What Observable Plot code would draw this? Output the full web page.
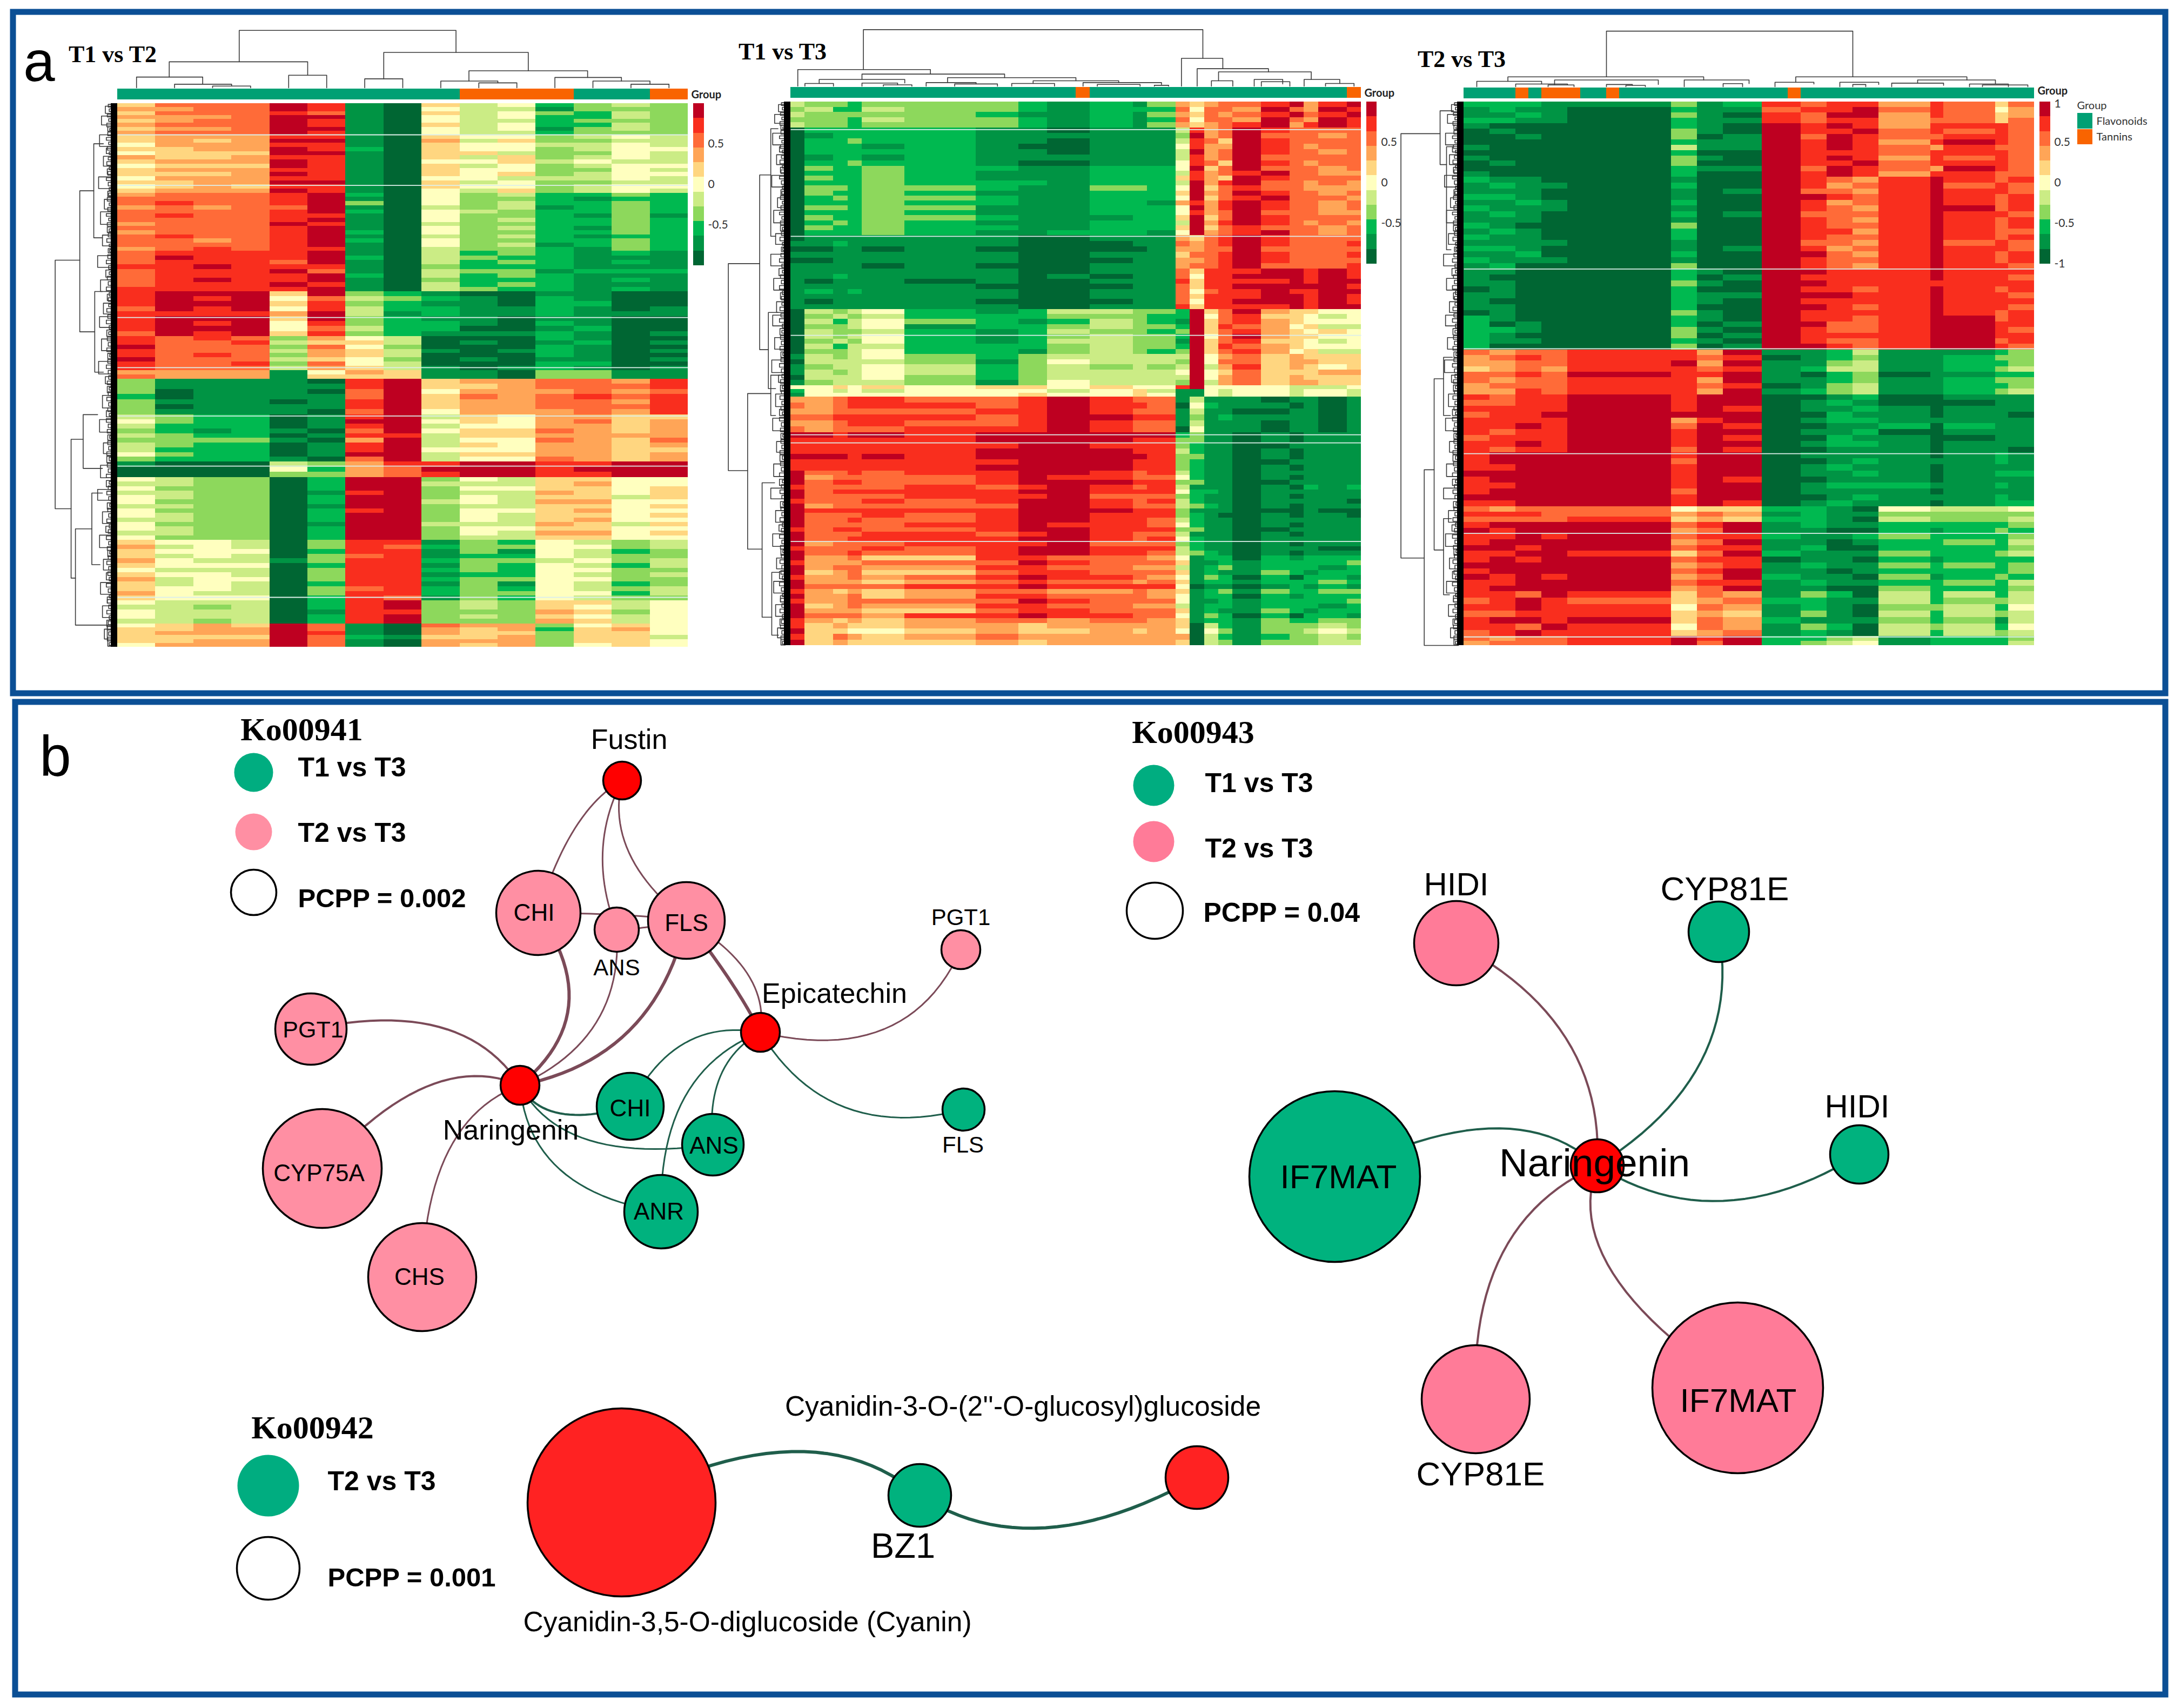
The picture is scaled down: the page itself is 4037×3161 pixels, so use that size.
<!DOCTYPE html>
<html><head><meta charset="utf-8">
<script src="https://cdn.jsdelivr.net/npm/d3@7"></script>
<script src="https://cdn.jsdelivr.net/npm/@observablehq/plot@0.6"></script>
<style>html,body{margin:0;padding:0;background:#fff;overflow:hidden}svg{display:block}</style>
</head><body><div id="chart"></div>
<script>
// ---------- heatmap values: each digit is a binned z-score (0 = -1 ... 5 = 0 ... a = +1)
const t1t2Groups = "FFFFFFFFFTTTFFT";
const t1t2Spans = [1,1,1,1,1,1,1,1,1,1,1,1,1,1,1];
const t1t2Bands = [70,130,130,90,100,95,80,105,35,140,135,52,52];
const t1t2Rows = [
["6888a9106452343","7788a9105441333","688898106453243","7778aa105452243","6788a9105442333","7888a9106452243","6778aa105451343","7888a9105442333"],
["677799106553454","6767aa107463344","577799106554454","6677a9206553455","5666aa106643354","766799106463454","6777a9105564544","5666a9106453455","677799106553354","6667a9106563455","577799105544454","6677aa106453344","567699106553455","6777a9105463454"],
["78889a205342232","88889a105332122","89889a305342232","78788a104341232","88889a205432232","898899105332131","88889a105342232","7888a9104332232","88889a105342132","78889a205332232","89889a104342122","88789a205332232","88889a105341232","789899104332132"],
["89999a104232121","8a999a204322111","89998a104232121","99a999103222111","8999a8104331222","89999a204232111","89a99a103222121","8999a9104232111","99999a104322121"],
["9aaa6a321001100","9a9a58432102100","9aaa69321102200","8a9a59422112101","99997a412112111","9aaa6a321101100","9a9a59322102100","9aaa58422001200","8a9a69321112101"],
["989837540002100","988946640101201","a88838530002100","988847641012101","989837640002100","a88846530101101","988938540002200","988847641012101","777715761103311","877716661103311"],
["3111109a6778879","3111119a6678889","3011108a5777878","2011118a6878989","3111019a6778879","3011119a6778889","3111108a5777879"],
["4322019a4657766","532201aa5657867","4222019a4557767","3212108a5668767","432201994667777","3333107a4558768","4322019a4657767","4222019a5557766","532201aa4667767","3222108a4558767"],
["100043799aa99aa","00005278aaa9aaa","000033789aa99aa"],
["543302aa3546655","443302aa4446755","533302aa3556656","4433019a3447656","543302aa3546646","533302aa4547755","443301aa3446656","5333029a3556755","543302aa3546656","443302aa3546755","533301aa4447646","543302aa3556655","443302aa3547756","533302aa3446655"],
["655403991325434","745403982335534","655502991315423","645403891225433","754413992334534","655502991325424","544403992325533","655403991225434","745503992335533","645402991315423","655403892325434","754403992335524","655502981325433"],
["5444029a3436645","4434029a3436545","544401993337635","5444029a3436545","4434029a3337645"],
["5676a8108773565","6677a8107672675","6777a9107663665","6666a8216673664","6677a8107773665","5777a8107673565"]];
const t1t2Gaps = [70,183,478,590,698,810,1103];

const t1t3Groups = "FFFFFFFFFFFFFFFFFFFFTFFFFFFFFFFFFFFFFFFT";
const t1t3Spans = [1,2,1,1,3,5,3,2,3,3,1,2,1,1,1,1,2,2,1,1,2,1];
const t1t3Bands = [58,85,155,75,90,100,70,25,80,85,190,150,50];
const t1t3Rows = [
["433233321213767889a79a","34224332122285887a87a9","433333211213768789a89a","3332433212128588 7a87a9".replace(" ",""),"43323332121376789a79a9"],
["0222221101114978a98888","0122221111113a78a88878","0223221101114986a98888","0222121001115977a98788","0222221101114a78a98878","0122121111114978a88888","0223221001115986a98788"],
["0322322112225a68a88878","02223211122249789a8877","0322321112226976a98888","0222322212224a79a88787","0332332113325a68988777","0322321112226a78a98878","0232332112225a689a8887","0222322112217979a98878","0332331112225a79a98878","0222321112225978a88877","0322332111226a68a98888","0232321112224a79a98787","0322322112226a68988878","0222321122215a789a8878"],
["0111111001117689a98888","1121111000118789a98889","0011010000017788a88888","1111111001116889a98889","0011111000117789a98888","1111010001117889a88889"],
["11111110011186999aa9a9","1121111010118599aaa9a9","101110100111969999a9aa","1111110000118699aaaaa9","12121110011185899a99aa","11111110011186999aa9a9","1011110000118599aaa9a9","111111100111969999a9aa"],
["0434521244332a68a76655","0343422233322a58966545","0424532124321a68976555","0334512234332a69875644","0433421243323a68976565","0434521234332a58a76655","0343521244331a68966545","0424422234332a69876555","0334522134323a68975644"],
["1434532344444a57867666","0444431354443a58867766","1344542343434a47967656","1434542344445a56866677","0444532344444a57867666","1344431354443a47867766"],
["5565656656559a55554445","2545455545641154554554","1555555655651154554554"],
["77899889a9881411101101","87899989a9980521110101","77888899a9881411001101","88999989aa991312111101","77899889a9881411101101","87888999a9880511101101"],
["aa9aa9aaaaaa2311010111","999999aaaa993311010111","9999999aa9993211001111","999999aaaa994211010111","aaa9a9aaaaa93311010111","9999999aaa993211001111","999999aaaa993211010111"],
["a889899aa9894211011111","a788889a99885211010111","a899889aaa993311001111","98888989a9894111010212","a899999aa9995221011111","a8888999a8883211010111","9888989aa9894211011110","a788888aa9884321010111","a999999aaa993111000100","a888989aa9993210010110","a889889aa9984211011111","a888899a99985211010111","9899889aa9993311001111","a8889989a9884111010111","a889999aa9895211011111","a78889 99a8883211010111".replace(" ",""),"9888989aa9994211011100","a889889aa9984321010111"],
["a778669988875122021222","9777888a98886112122223","a788779988774123122212","a678668998886121132122","9778789a99875132020221","a777678988786122122232","a888899a99995011012121","9767678877876123132233","a778679988875122021222","9778888a98885112122223","a678779988774122122212","a777668998886121132122","a888799a99885132020221","9767678878876122132233"],
["9676677677776042133343","a665567667675053133454","9687678777777042123343","a676667677776043133344"]];
const t1t3Gaps = [62,300,521,743,761,981];

const t2t3Groups = "FFFFTFTTTFFTFFFFFFFFFFFFFTFFFFFFFFFFFFFFFFFF";
const t2t3Spans = [2,2,2,2,8,2,2,3,3,2,2,2,4,1,4,1,2];
const t2t3Bands = [48,120,205,105,75,100,130,120,35,155,100,20];
const t2t3Rows = [
["22211312989979868","12110211899a89857","1121031098aa79867","22110211989978868"],
["10000210a9a979998","01000310a99a89898","00100301a8a988998","00000211a9a979a98","10000411a9a987988","00000200a99989998","10000310a9a979898","01000300a99a89998","00000211a8a987a98","10000200a9a979988"],
["21100100a9879a989","12110200a9789a898","11100101a8879a998","22100100aa989a989","11210200a9789a989","21110100a9879aa89","12100201a8889a998","11100100a9879a989","21000300a9889a989","12100200a9979a988","21100200a9889a989","11110100a8879a898","22100101a9789a998","11200200aa879a989","21110100a9889a989","12000300a9879a998"],
["11000210aa999a999","10000201a9999a998","11000310aa9999999","01000200a9989a989","11000211aaa99a998","10000210a9999a999","11000200aa989a998","01000310a9999a989"],
["21000210a9989aa89","20100201aa889aa99","22100310a9889aa98","21000301a9999aa99","21100210a9889aa89","20000301aa989aa98"],
["8788997a112411123","78989989012311233","77889a7a113411223","67879989124411234","8898a99a102301122","87889 97a112311233".replace(" ",""),"78889989013411223","7798997a123411234"],
["9899a9aa001200111","8899a9aa012100011","9999a9a9011210111","899aaaaa002110110","9999a79a012211111","99a9a8a9001120211","9899a9aa011200111","8999a9a9002110011","99a9a9aa012210111","9899a8a9001110110"],
["9aaaa9aa011110121","9aaaa8aa001211121","99aaa9aa012110111","aaaaa9aa011210122","9aaaa9a9001110111","99aaa9aa012221121","9aaaa8aa011110111","aaaaa9aa001211121","99aaa9a9012110122"],
["87888566221054445","99988787121133333","88889676221043334"],
["9aaaa89a121122223","a9aaa78a110021232","99a9a899211232223","9aaaa78a110122324","aa9aa899120022223","99aa968a211132234","9a9aa899011021222","aaaaa789121132323","9aaaa89a110122223","a9a9a78a211031232","99aaa899121122324","9aaaa78a110032223"],
["998a9687132042424","89a98678221142334","99a99587121033425","88999676131042434","9aa9a687211132314","998a9587132043425","89a99678121042434"],
["87889a9a223412223","78889a8a234512224"]];
const t2t3Gaps = [373,551,785,963,1194];

// ---------- dendrogram merges: [leaf a, leaf b, height of a, height of b, merge height]
const t1t2Top = [[3.2,8.9,58,79,128],[1.36,5,24,28,58],[.5,2.24,0,8,24],[1.5,3,0,4,8],[2.5,3.5,0,0,4],[4.5,5.5,0,0,28],[7,10.8,20,38,79],[6.5,7.5,0,0,20],[9.24,12.36,15,23,38],[8.5,10,0,11,15],[9.5,10.5,0,0,11],[11.5,13.25,0,15,23],[12.5,14,0,8,15],[13.5,14.5,0,0,8]];
const t1t3Top = [[5.1,28.9,37,62,126],[.5,9.8,0,27,37],[5,15,15,19,27],[2,8,6,7,15],[1,3,0,0,6],[5,7.5,0,3,7],[6.5,8.5,0,0,3],[11,20,8,12,19],[9.5,13,0,5,8],[11.5,14.5,0,0,5],[17,23,6,8,12],[15.5,18.5,0,0,6],[20.5,26,0,4,8],[21.5,24.5,0,0,4],[25.5,26.5,0,0,2],[27.4,30.3,0,39,62],[28.5,33.5,0,32,39],[30,36.5,12,15,32],[29.5,31,0,0,12],[33,35,0,0,10],[32.5,34.5,0,5,15],[36,38.5,0,6,15],[37.5,39.5,0,0,6]];
const t2t3Top = [[11,30,22,22,124],[3.4,18.5,12,15,22],[1,6,0,6,12],[4,8,0,4,6],[7,15,4,5,15],[6.5,8.5,0,0,4],[11,13,0,3,5],[12.5,14,0,0,3],[17,22,0,7,15],[20,21.5,0,0,7],[25.6,38.8,10,15,22],[24,27,0,6,10],[29,32,0,5,10],[35,41,8,6,15],[33,37,0,3,8],[39,42,0,0,6],[40,43.5,0,0,4],[30,31,0,0,5]];
const t1t2Side = [[350,905,67,85,118],[195,510,38,36,67],[90,300,18,20,38],[420,600,20,18,36],[750,1060,60,76,85],[695,815,30,20,60],[950,1165,42,10,76],[870,1030,20,25,42],[1165,1200,0,0,10]];
const t1t3Side = [[361,823,53,78,118],[163,553,30,35,53],[60,300,15,20,30],[470,640,15,20,35],[651,998,30,48,78],[610,700,10,20,30],[850,1150,22,28,48],[1050,1190,12,14,28]];
const t2t3Side = [[71,1018,37,69,116],[20,140,10,24,37],[100,330,12,15,24],[821,1213,49,0,69],[618,1000,30,30,49],[570,700,12,16,30],[930,1100,14,18,30]];
const leafMerges = [[6,22,14],[28,48,22],[52,62,9],[70,96,26],[100,112,12],[118,140,18],[146,158,10],[164,190,28],[196,208,9],[214,236,16],[242,270,24],[276,288,10],[294,318,20],[324,334,8],[340,366,30],[372,388,13],[394,420,24],[426,440,10],[446,470,18],[476,500,26],[506,520,11],[526,552,22],[558,570,9],[576,604,28],[610,626,14],[632,646,10],[652,680,20],[686,700,12],[706,734,26],[740,752,9],[758,782,18],[788,802,11],[808,836,24],[842,856,12],[862,886,30],[892,906,10],[912,938,20],[944,958,13],[964,992,26],[998,1012,9],[1018,1042,18],[1048,1064,12],[1070,1096,24],[1102,1116,10],[1122,1148,20],[1154,1168,11],[1174,1196,16],[1200,1212,9]];
const leafFine = [[2,8,8],[12,18,6],[24,30,10],[34,40,7],[44,52,11],[56,60,5],[64,72,9],[76,82,12],[86,92,7],[96,104,10],[108,114,6],[120,126,8],[130,138,11],[142,148,6],[152,160,9],[166,172,12],[176,184,8],[188,194,6],[200,206,7],[210,218,10],[222,228,6],[232,240,9],[246,252,12],[256,262,7],[266,274,10],[280,286,6],[290,298,8],[302,310,11],[314,320,6],[326,332,5],[338,346,9],[350,358,12],[362,370,7],[376,382,6],[386,394,10],[398,406,8],[410,418,12],[422,430,6],[434,442,8],[448,454,7],[458,466,11],[472,480,9],[484,492,12],[496,504,6],[510,516,7],[522,530,10],[534,542,8],[546,554,11],[560,566,5],[572,580,9],[584,592,12],[596,604,8],[608,616,7],[620,628,10],[634,640,6],[644,652,8],[656,664,11],[668,676,7],[680,688,9],[692,698,6],[704,712,12],[716,724,8],[728,736,10],[742,748,5],[754,762,9],[766,774,7],[778,786,11],[790,798,6],[804,812,10],[816,824,8],[828,836,12],[844,850,6],[854,862,8],[866,874,11],[878,886,7],[894,900,5],[904,912,9],[916,924,7],[928,936,11],[940,948,6],[952,960,8],[966,974,12],[978,986,7],[990,998,10],[1000,1006,5],[1010,1018,8],[1022,1030,11],[1034,1042,7],[1046,1054,9],[1058,1066,6],[1072,1080,12],[1084,1092,8],[1098,1104,6],[1108,1116,10],[1120,1128,7],[1132,1140,11],[1144,1152,6],[1156,1164,8],[1168,1176,10],[1180,1188,7],[1192,1200,9],[1204,1210,6]];

// ---------- network nodes: name, class, place on the canvas, size
const ko941Nodes = [["Fustin","met",1151,1444,35],["CHI","p",996,1689,78],["ANS","p",1141,1720,41],["FLS","p",1270,1703,71],["PGT1r","p",1778,1757,36],["Epicatechin","met",1407,1910,36],["PGT1l","p",575,1904,66],["Naringenin","met",962,2008,36],["CHIg","g",1166,2047,62],["ANSg","g",1319,2118,57],["ANR","g",1223,2242,68],["FLSg","g",1783,2053,39],["CYP75A","p",596,2162,110],["CHS","p",781,2363,100]];
const ko941Edges = [["Fustin","CHI",1064,1532,3,"p"],["Fustin","ANS",1115,1578,3,"p"],["Fustin","FLS",1164,1578,3,"p"],["CHI","FLS",1152,1693,3,"p"],["ANS","FLS",1200,1715,3,"p"],["CHI","Naringenin",1052,1861,6,"p"],["ANS","Naringenin",1103,1892,3,"p"],["FLS","Naringenin",1164,1907,6,"p"],["FLS","Epicatechin",1352,1816,6,"p"],["FLS","Epicatechin",1382,1800,3,"p"],["PGT1l","Naringenin",812,1900,4,"p"],["CYP75A","Naringenin",788,2011,4,"p"],["CHS","Naringenin",830,2129,3,"p"],["Epicatechin","PGT1r",1636,1904,3,"p"],["Naringenin","CHIg",1036,2060,4,"g"],["Naringenin","ANSg",1091,2110,3,"g"],["Naringenin","ANR",1036,2164,3,"g"],["Epicatechin","CHIg",1267,1930,3,"g"],["Epicatechin","ANSg",1333,1991,3,"g"],["Epicatechin","ANR",1267,2030,3,"g"],["Epicatechin","FLSg",1564,2049,3,"g"]];
const ko943Nodes = [["HIDIp","q",2695,1745,78],["CYP81Eg","g",3181,1724,56],["Nar943","met",2956,2157,49],["HIDIg","g",3441,2136,54],["IF7g","g",2470,2177,158],["CYP81Ep","q",2731,2589,100],["IF7p","q",3216,2568,158]];
const ko943Edges = [["HIDIp","Nar943",2898,1921,4,"p"],["CYP81Eg","Nar943",3148,1964,4,"g"],["IF7g","Nar943",2755,2088,4,"g"],["HIDIg","Nar943",3189,2222,4,"g"],["CYP81Ep","Nar943",2781,2318,4,"p"],["IF7p","Nar943",2985,2356,4,"p"]];
const ko942Nodes = [["Cyanin","met2",1150,2780,174],["BZ1","g",1702,2767,58],["Cy3","met2",2215,2734,58]];
const ko942Edges = [["Cyanin","BZ1",1465,2686,6,"g"],["BZ1","Cy3",1935,2827,6,"g"]];
const legendDots = [["g2",469,1429,36],["p",469,1539,34],["g2",2135,1453,38],["q",2135,1557,38],["g2",496,2749,57]];
const legendOpen = [[469,1651,42],[2137,1685,52],[496,2902,58]];

// ---------- labels: text, x, y, font size
const nodeLabels = [["Fustin",1164,1369,52],["ANS",1141,1791,42],["CHI",988,1689,44],["FLS",1270,1708,44],["PGT1",1778,1698,42],["Epicatechin",1544,1839,52],["PGT1",579,1906,43],["Naringenin",945,2092,52],["CHI",1166,2051,44],["ANS",1321,2120,44],["ANR",1219,2242,44],["FLS",1782,2119,42],["CYP75A",590,2171,44],["CHS",776,2363,44],
["HIDI",2695,1637,60],["CYP81E",3192,1646,62],["Naringenin",2951,2153,73],["HIDI",3437,2048,60],["IF7MAT",2477,2179,62],["CYP81E",2740,2729,62],["IF7MAT",3217,2593,62],
["BZ1",1671,2862,65],["Cyanidin-3-O-(2''-O-glucosyl)glucoside",1893,2603,51.5],["Cyanidin-3,5-O-diglucoside (Cyanin)",1383,3002,51.5],["a",72,116,105],["b",102,1402,105]];
const boldLabels = [["T1 vs T3",551,1420,50],["T2 vs T3",551,1541,50],["PCPP = 0.002",551,1663,49],["T1 vs T3",2230,1449,50],["T2 vs T3",2230,1570,50],["PCPP = 0.04",2227,1689,50],["T2 vs T3",606,2741,50],["PCPP = 0.001",606,2920,49]];
const serifLabels = [["T1 vs T2",208,100,44],["T1 vs T3",1448,95,44],["T2 vs T3",2705,109,44],["Ko00941",558,1350,60],["Ko00943",2208,1355,60],["Ko00942",578,2642,60]];

// ---------- styling and layout (kept apart from the values)
const W = 4037, H = 3161;
const heatColors = ["#006633","#009444","#00B950","#8DD85C","#CBEC85","#FFFFBF","#FFD680","#FFA557","#FF6B38","#F92E1E","#BE0021"];
const classFill = {p:"#FF8FA3", q:"#FF7B98", g:"#00B27E", g2:"#00AD80", met:"#FF0000", met2:"#FF2222"};
const edgeStroke = {p:"#7B4A58", g:"#1F5E4B"};
const maps = [
 {groups:t1t2Groups,spans:t1t2Spans,bands:t1t2Bands,rows:t1t2Rows,gaps:t1t2Gaps,top:t1t2Top,side:t1t2Side,L:217,R:1273,T:191,B:1197,aT:164,aB:184,bL:1283,bR:1303,sideK:.893,ticks:[.5,0,-.5],bt:"Group",btX:1279,btY:175,tickX:1310},
 {groups:t1t3Groups,spans:t1t3Spans,bands:t1t3Bands,rows:t1t3Rows,gaps:t1t3Gaps,top:t1t3Top,side:t1t3Side,L:1463,R:2519,T:188,B:1194,aT:161,aB:181,bL:2529,bR:2548,sideK:.893,ticks:[.5,0,-.5],bt:"Group",btX:2525,btY:172,tickX:2556},
 {groups:t2t3Groups,spans:t2t3Spans,bands:t2t3Bands,rows:t2t3Rows,gaps:t2t3Gaps,top:t2t3Top,side:t2t3Side,L:2709,R:3765,T:188,B:1194,aT:162,aB:182,bL:3775,bR:3795,sideK:.917,ticks:[1,.5,0,-.5,-1],bt:"Group",btX:3771,btY:168,tickX:3802}
];

const cells=[],gaps=[],annot=[],dend=[],bandsBlack=[],bar=[],ticks=[],groupTitles=[];
let did=0;
function addMerge(m,fx){ // m in [a,b,ha,hb,h]; fx maps leaf and height to (x,y)
  const [a,b,ha,hb,h]=m, id=did++;
  [[a,ha],[a,h],[b,h],[b,hb]].forEach(([l,d])=>dend.push({id,...fx(l,d)}));
}
maps.forEach(m=>{
  const nCols=d3.sum(m.spans), span=d3.sum(m.bands);
  const cx=c=>m.L+c/nCols*(m.R-m.L), ry=r=>m.T+r/span*(m.B-m.T);
  let r0=0;
  m.rows.forEach((rows,bi)=>{
    const rh=m.bands[bi]/rows.length;
    rows.forEach((s,ri)=>{
      let c0=0;
      m.spans.forEach((sp,ci)=>{
        const lev=parseInt(s[ci]??s[s.length-1],16);
        cells.push({x1:cx(c0),x2:cx(c0+sp),y1:ry(r0+ri*rh),y2:ry(r0+(ri+1)*rh),v:(lev-5)/5});
        c0+=sp;
      });
    });
    r0+=m.bands[bi];
  });
  m.gaps.forEach(g=>gaps.push({x1:m.L,x2:m.R,y:ry(g)}));
  [...m.groups].forEach((g,i)=>annot.push({g,x1:cx(i),x2:cx(i+1),y1:m.aT,y2:m.aB}));
  m.top.forEach(t=>addMerge(t,(l,d)=>({x:cx(l),y:m.aT-2-d*.83})));
  const sideF=(l,d)=>({x:m.L-10-d*m.sideK,y:ry(l)});
  m.side.forEach(t=>addMerge(t,sideF));
  leafMerges.forEach(t=>addMerge([t[0],t[1],0,0,t[2]],sideF));
  leafFine.forEach(t=>addMerge([t[0],t[1],0,0,t[2]],sideF));
  bandsBlack.push({x1:m.L-12,x2:m.L,y1:m.T,y2:m.B});
  const bh=300/11;
  for(let l=10;l>=0;l--) bar.push({x1:m.bL,x2:m.bR,y1:m.T+(10-l)*bh,y2:m.T+(11-l)*bh,v:(l-5)/5});
  m.ticks.forEach(t=>ticks.push({t:String(t),x:m.tickX,y:m.T+(1-t)/2*300+(t===1?4:0)}));
  groupTitles.push({t:m.bt,x:m.btX,y:m.btY});
});

// each edge bows through its read-off mid point
function curve(nodes,edges,tag){
  const by=new Map(nodes.map(n=>[n[0],n])), out=[];
  edges.forEach((e,i)=>{
    const a=by.get(e[0]), b=by.get(e[1]);
    const cx=2*e[2]-(a[2]+b[2])/2, cy=2*e[3]-(a[3]+b[3])/2;
    d3.range(0,1.001,1/24).forEach(t=>{
      const u=1-t;
      out.push({id:tag+i,x:u*u*a[2]+2*u*t*cx+t*t*b[2],y:u*u*a[3]+2*u*t*cy+t*t*b[3],w:e[4],k:e[5]});
    });
  });
  return out;
}
const allEdges=[...curve(ko941Nodes,ko941Edges,"a"),...curve(ko943Nodes,ko943Edges,"b"),...curve(ko942Nodes,ko942Edges,"c")];
const allNodes=[...ko941Nodes,...ko943Nodes,...ko942Nodes];

const txt=(arr,opt)=>Plot.text(arr,{text:d=>d[0],x:d=>d[1],y:d=>d[2],fontSize:d=>d[3],fill:"black",...opt});
const rectOf=(data,opt)=>Plot.rect(data,{x1:"x1",x2:"x2",y1:"y1",y2:"y2",...opt});

const marks=[
  rectOf(cells,{fill:"v",shapeRendering:"crispEdges"}),
  Plot.link(gaps,{x1:"x1",x2:"x2",y1:"y",y2:"y",stroke:"#DDEFEA",strokeWidth:1.8}),
  rectOf(annot.filter(d=>d.g==="F"),{fill:"#00A074",shapeRendering:"crispEdges"}),
  rectOf(annot.filter(d=>d.g==="T"),{fill:"#F96400",shapeRendering:"crispEdges"}),
  Plot.line(dend,{x:"x",y:"y",z:"id",stroke:"#3a3a3a",strokeWidth:1.6,curve:"linear"}),
  rectOf(bandsBlack,{fill:"#000"}),
  rectOf(bar,{fill:"v",shapeRendering:"crispEdges"}),
  Plot.text(ticks,{text:"t",x:"x",y:"y",textAnchor:"start",fontSize:21,fontFamily:"Lato",fill:"#333"}),
  Plot.text(groupTitles,{text:"t",x:"x",y:"y",textAnchor:"start",fontSize:20,fontWeight:"bold",fontFamily:"Lato",fill:"#222"}),
  // legend of panel a
  Plot.rect([{g:0}],{x1:3845,x2:3873,y1:209,y2:238,fill:"#00A074"}),
  Plot.rect([{g:1}],{x1:3845,x2:3873,y1:239,y2:267,fill:"#F96400"}),
  Plot.text([["Group",3844,195],["Flavonoids",3880,224],["Tannins",3880,253]],{text:d=>d[0],x:d=>d[1],y:d=>d[2],textAnchor:"start",fontSize:20,fontFamily:"Lato",fill:"#333"}),
  // panel frames
  Plot.rect([[24,4008,22,1283],[28,4008,1299,3136]],{x1:d=>d[0],x2:d=>d[1],y1:d=>d[2],y2:d=>d[3],fill:"none",stroke:"#0B4F95",strokeWidth:11}),
  // networks
  ...Object.keys(edgeStroke).map(k=>Plot.line(allEdges.filter(d=>d.k===k),{x:"x",y:"y",z:"id",strokeWidth:"w",stroke:edgeStroke[k],curve:"linear"})),
  ...Object.keys(classFill).map(k=>Plot.dot(allNodes.filter(n=>n[1]===k),{x:d=>d[2],y:d=>d[3],r:d=>d[4],fill:classFill[k],stroke:"black",strokeWidth:3.5})),
  ...Object.keys(classFill).map(k=>Plot.dot(legendDots.filter(n=>n[0]===k),{x:d=>d[1],y:d=>d[2],r:d=>d[3],fill:classFill[k]})),
  Plot.dot(legendOpen,{x:d=>d[0],y:d=>d[1],r:d=>d[2],fill:"white",stroke:"black",strokeWidth:3.5}),
  txt(nodeLabels,{fontFamily:"Liberation Sans"}),
  txt(boldLabels,{fontFamily:"Liberation Sans",fontWeight:"bold",textAnchor:"start"}),
  txt(serifLabels,{fontFamily:"Liberation Serif",fontWeight:"bold"})
];

const chart=Plot.plot({
  width:W,height:H,margin:0,
  style:{background:"#fff",overflow:"hidden"},
  x:{type:"linear",domain:[0,W],range:[0,W],axis:null},
  y:{type:"linear",domain:[0,H],range:[0,H],axis:null},
  r:{type:"identity"},
  color:{type:"threshold",domain:[-.9,-.7,-.5,-.3,-.1,.1,.3,.5,.7,.9],range:heatColors},
  marks
});
document.getElementById("chart").append(chart);
</script></body></html>
